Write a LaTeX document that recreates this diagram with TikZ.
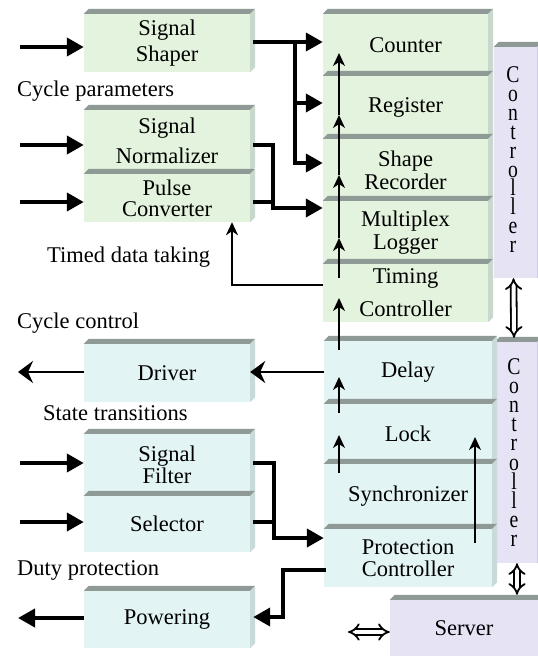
\documentclass[tikz,border=0pt]{standalone}
\usepackage{fontspec}
\setmainfont{Liberation Serif}
\usetikzlibrary{arrows.meta,calc}
\definecolor{gface}{HTML}{E3F3DD}
\definecolor{cface}{HTML}{E3F4F4}
\definecolor{lface}{HTML}{E6E3F5}
\definecolor{topg}{HTML}{8F9A96}
\definecolor{gside}{HTML}{C9D8CC}
\definecolor{cside}{HTML}{C8DADA}
\definecolor{lside}{HTML}{CFCBE0}
\newcommand\threed[2]{%
  \fill[topg] (#1.north west) -- ++(5,-5) -- ($(#1.north east)+(5,-5)$) -- (#1.north east) -- cycle;
  \fill[#2] (#1.north east) -- ++(5,-5) -- ($(#1.south east)+(5,-5)$) -- (#1.south east) -- cycle;}
\newcommand\vstack[1]{\scalebox{0.82}[1]{\vbox{\baselineskip=#1\lineskiplimit=-100pt\lineskip=0pt
  \halign{\hfil##\hfil\cr C\cr o\cr n\cr t\cr r\cr o\cr l\cr l\cr e\cr r\cr}}}}
\tikzset{
  face/.style={rectangle, inner sep=0pt, align=center, font=\fontsize{22.5}{#1}\selectfont},
  face/.default=26,
  gbox/.style={face=#1, fill=gface},
  gbox/.default=26,
  cbox/.style={face=#1, fill=cface},
  cbox/.default=26,
  lbox/.style={face=#1, fill=lface},
  lbox/.default=26,
  lbl/.style={anchor=west, inner sep=0pt, font=\fontsize{22.5}{26}\selectfont},
  stack/.style={anchor=north, inner sep=0pt, font=\fontsize{24}{19}\selectfont},
  fat/.style={line width=4pt, line cap=rect},
  thickarr/.style={line width=4pt, -{Triangle[length=17pt,width=18pt]}},
  thinarr/.style={line width=2pt, -{Stealth[length=13pt,width=12pt,inset=4pt]}},
  bigthin/.style={line width=2.5pt, -{Stealth[length=15pt,width=22pt,inset=5pt]}},
  dbl/.style={double distance=4pt, line width=1.8pt, {Implies}-{Implies}}
}
\begin{document}
\begin{tikzpicture}[x=1pt, y=-1pt]
\useasboundingbox (0,0) rectangle (538,656);
\fill[white] (0,0) rectangle (538,656);

% controllers (behind)
\node[lbox, minimum width=43pt, minimum height=231pt] (ctrl1) at (515.5,162.5) {};
\threed{ctrl1}{lside}
\node[lbox, minimum width=42pt, minimum height=221pt] (ctrl2) at (516,452.5) {};
\threed{ctrl2}{lside}
\node[stack] (ctxt1) at (513,66.5) {\vstack{18.9pt}};
\node[stack] (ctxt2) at (514,358.5) {\vstack{19.1pt}};
\node[lbox, minimum width=148pt, minimum height=56pt] (server) at (464,628) {Server};
\threed{server}{lside}

% left top group
\node[gbox, minimum width=166pt, minimum height=58pt] (shaper) at (167,43) {Signal\\Shaper};
\threed{shaper}{gside}
\node[gbox=30, minimum width=166pt, minimum height=62pt] (norm) at (167,141) {Signal\\Normalizer};
\threed{norm}{gside}
\node[gbox=21, minimum width=166pt, minimum height=48pt] (pulse) at (167,198) {Pulse\\Converter};
\threed{pulse}{gside}

% left bottom group
\node[cbox, minimum width=166pt, minimum height=58pt] (driver) at (167,373) {Driver};
\threed{driver}{cside}
\node[cbox=22, minimum width=166pt, minimum height=62pt] (filter) at (167,465) {Signal\\Filter};
\threed{filter}{cside}
\node[cbox, minimum width=166pt, minimum height=56pt] (selector) at (167,524) {Selector};
\threed{selector}{cside}
\node[cbox, minimum width=166pt, minimum height=57pt] (powering) at (167,619.5) {Powering};
\threed{powering}{cside}

% right top group
\node[gbox, minimum width=165pt, minimum height=62pt] (counter) at (405.5,45) {Counter};
\threed{counter}{gside}
\node[gbox, minimum width=165pt, minimum height=63pt] (register) at (405.5,107.5) {Register};
\threed{register}{gside}
\node[gbox=23, minimum width=165pt, minimum height=62pt] (shape) at (405.5,170) {Shape\\Recorder};
\threed{shape}{gside}
\node[gbox=23, minimum width=165pt, minimum height=63pt] (mux) at (405.5,232.5) {Multiplex\\Logger};
\threed{mux}{gside}
\node[gbox=33, minimum width=165pt, minimum height=58pt] (timing) at (405.5,293) {Timing\\Controller};
\threed{timing}{gside}

% right bottom group
\node[cbox, minimum width=168pt, minimum height=63pt] (delay) at (408,372.5) {Delay};
\threed{delay}{cside}
\node[cbox, minimum width=168pt, minimum height=60pt] (lock) at (408,434) {Lock};
\threed{lock}{cside}
\node[cbox, minimum width=168pt, minimum height=65pt] (sync) at (408,496.5) {Synchronizer};
\threed{sync}{cside}
\node[cbox=22, minimum width=168pt, minimum height=58pt] (prot) at (408,558) {Protection\\Controller};
\threed{prot}{cside}

% labels
\node[lbl] (l1) at (17,91) {Cycle parameters};
\node[lbl] (l2) at (47,257) {Timed data taking};
\node[lbl] (l3) at (17,323) {Cycle control};
\node[lbl] (l4) at (43,413) {State transitions};
\node[lbl] (l5) at (17,570) {Duty protection};

% input arrows
\coordinate (i1) at (20,47);
\coordinate (i2) at (20,145);
\coordinate (i3) at (20,202);
\coordinate (i4) at (20,463);
\coordinate (i5) at (20,522);
\draw[thickarr] (i1) -- (i1 -| shaper.west);
\draw[thickarr] (i2) -- (i2 -| norm.west);
\draw[thickarr] (i3) -- (i3 -| pulse.west);
\draw[thickarr] (i4) -- (i4 -| filter.west);
\draw[thickarr] (i5) -- (i5 -| selector.west);

% outputs
\coordinate (o1) at (18,372);
\coordinate (o2) at (18,618);
\draw[bigthin] (o1 -| driver.west) -- (o1);
\draw[thickarr] (o2 -| powering.west) -- (o2);
\draw[bigthin] (delay.west |- o1) -- (o1 -| driver.east);

% shaper bus
\coordinate (b1) at (295,42);
\coordinate (b2) at (295,103);
\coordinate (b3) at (295,163);
\draw[fat] ($(b1 -| shaper.east)+(5,0)$) -- (b1) -- (b3);
\draw[thickarr] (b1) -- (b1 -| counter.west);
\draw[thickarr] (b2) -- (b2 -| register.west);
\draw[thickarr] (b3) -- (b3 -| shape.west);

% normalizer / pulse bus
\coordinate (n1) at (273,145);
\coordinate (n2) at (273,208);
\coordinate (n3) at (273,202);
\draw[fat] ($(n1 -| norm.east)+(5,0)$) -- (n1) -- (n2);
\draw[thickarr] (n2) -- (n2 -| mux.west);
\draw[fat] ($(n3 -| pulse.east)+(5,0)$) -- (n3);

% filter / selector bus
\coordinate (f1) at (274,463);
\coordinate (f2) at (274,538);
\coordinate (f3) at (274,522);
\draw[fat] ($(f1 -| filter.east)+(5,0)$) -- (f1) -- (f2);
\draw[thickarr] (f2) -- (f2 -| prot.west);
\draw[fat] ($(f3 -| selector.east)+(5,0)$) -- (f3);

% protection -> powering
\coordinate (p1) at (283,570);
\coordinate (p2) at (283,617);
\draw[fat] (p1 -| prot.west) -- (p1) -- (p2);
\draw[thickarr] (p2) -- ($(p2 -| powering.east)+(3,0)$);

% feedback
\coordinate (fb) at (232,285);
\draw[thinarr] (timing.west |- fb) -- (fb) -- (fb |- pulse.south);

% vertical chain
\coordinate (u0) at (339,278);
\coordinate (u1) at (339,238);
\coordinate (u2) at (339,175);
\coordinate (u3) at (339,115);
\coordinate (u4) at (339,53);
\draw[thinarr] (u0) -- (u1);
\draw[thinarr] (u1) -- (u2);
\draw[thinarr] (u2) -- (u3);
\draw[thinarr] (u3) -- (u4);
\coordinate (v0) at (339,350);
\coordinate (v1) at (339,298);
\draw[thinarr] (v0) -- (v1);
\coordinate (w0) at (339,413);
\coordinate (w1) at (339,377);
\draw[thinarr] (w0) -- (w1);
\coordinate (x0) at (339,473);
\coordinate (x1) at (339,435);
\draw[thinarr] (x0) -- (x1);
\coordinate (y0) at (475,543);
\coordinate (y1) at (475,437);
\draw[thinarr] (y0) -- (y1);

% double arrows
\draw[dbl] ([xshift=-2pt]ctrl1.south) -- ($(ctrl2.north)+(-2,-4)$);
\draw[dbl] ([xshift=1pt]ctrl2.south) -- ($(server.north -| ctrl2.south)+(1,-5)$);
\coordinate (s0) at (348,632);
\draw[dbl] (s0) -- (s0 -| server.west);
\end{tikzpicture}
\end{document}
